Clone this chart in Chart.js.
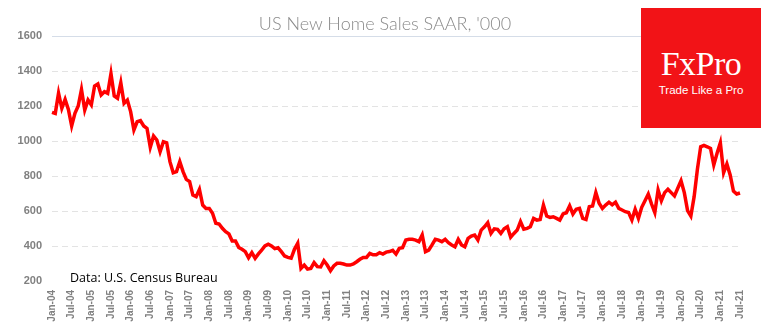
<!DOCTYPE html>
<html>
<head>
<meta charset="utf-8">
<script src="https://cdn.jsdelivr.net/npm/chart.js@4"></script>
<style>
    body { margin: 0; background: #fff; }
    #wrap { position: relative; width: 770px; height: 330px; }
    #title {
        position: absolute; left: 0; top: 12px; width: 770px; text-align: center;
        font-family: Lato, "Open Sans", sans-serif; font-weight: 300; font-size: 18px; color: #8a8a8a;
    }
    #logo {
        position: absolute; left: 641px; top: 8px; width: 120px; height: 120px;
        background: #f21317; color: #fff; text-align: center;
    }
    #logo .fx {
        font-family: "Liberation Serif", "DejaVu Serif", serif; font-size: 34px;
        margin-top: 39px; line-height: 34px; letter-spacing: -0.5px;
    }
    #logo .tag {
        font-family: "Liberation Sans", Arial, sans-serif; font-size: 11.5px; margin-top: 3px;
    }
    #source {
        position: absolute; left: 70px; top: 269px;
        font-family: "Open Sans", "Liberation Sans", sans-serif; font-size: 12.5px; color: #000;
    }
</style>
</head>
<body>
<div id="wrap">
    <canvas id="salesChart" width="770" height="330"></canvas>
    <div id="title">US New Home Sales SAAR, '000</div>
    <div id="source">Data: U.S. Census Bureau</div>
    <div id="logo"><div class="fx">FxPro</div><div class="tag">Trade Like a Pro</div></div>
</div>
<script>
// Monthly new home sales, SAAR thousands
const years = ['04', '05', '06', '07', '08', '09', '10', '11', '12', '13', '14', '15', '16', '17', '18', '19', '20', '21'];
const months = ['Jan', 'Feb', 'Mar', 'Apr', 'May', 'Jun', 'Jul', 'Aug', 'Sep', 'Oct', 'Nov', 'Dec'];

const sales2004 = [1164, 1158, 1273, 1187, 1238, 1180, 1086, 1158, 1200, 1295, 1177, 1234];
const sales2005 = [1206, 1314, 1326, 1263, 1282, 1272, 1385, 1257, 1244, 1333, 1215, 1234];
const sales2006 = [1168, 1063, 1110, 1116, 1086, 1072, 964, 1029, 1006, 939, 996, 990];
const sales2007 = [882, 819, 825, 882, 825, 781, 768, 691, 682, 724, 634, 615];
const sales2008 = [615, 587, 530, 526, 501, 482, 469, 429, 429, 392, 381, 368];
const sales2009 = [333, 362, 330, 355, 377, 400, 410, 400, 385, 390, 368, 343];
const sales2010 = [335, 330, 381, 415, 272, 291, 268, 272, 305, 282, 280, 316];
const sales2011 = [291, 259, 286, 301, 301, 297, 291, 291, 297, 310, 324, 335];
const sales2012 = [335, 358, 350, 350, 362, 354, 365, 368, 375, 354, 387, 390];
const sales2013 = [434, 438, 438, 434, 425, 463, 368, 377, 406, 438, 434, 425];
const sales2014 = [438, 419, 406, 396, 438, 406, 396, 444, 457, 463, 434, 491];
const sales2015 = [510, 533, 472, 498, 495, 472, 498, 510, 450, 472, 491, 539];
const sales2016 = [496, 501, 510, 558, 548, 552, 634, 571, 563, 567, 558, 548];
const sales2017 = [583, 590, 629, 583, 610, 615, 558, 552, 625, 629, 705, 644];
const sales2018 = [615, 634, 650, 635, 650, 615, 606, 596, 591, 549, 610, 558];
const sales2019 = [621, 659, 697, 640, 591, 720, 659, 705, 724, 705, 686, 730];
const sales2020 = [773, 705, 602, 571, 682, 838, 967, 975, 967, 958, 863, 930];
const sales2021 = [990, 819, 869, 806, 714, 697, 703];

const yTicks = [200, 400, 600, 800, 1000, 1200, 1400, 1600];

const sales = [].concat(sales2004, sales2005, sales2006, sales2007, sales2008, sales2009,
    sales2010, sales2011, sales2012, sales2013, sales2014, sales2015, sales2016, sales2017,
    sales2018, sales2019, sales2020, sales2021);

const labels = [];
years.forEach(y => months.forEach(m => labels.push(m + '-' + y)));
labels.length = sales.length;

const ctx = document.getElementById('salesChart').getContext('2d');

new Chart(ctx, {
    type: 'line',
    data: {
        labels: labels,
        datasets: [{
            data: sales,
            borderColor: '#ff0000',
            borderWidth: 3.5,
            pointRadius: 0,
            tension: 0,
            fill: false
        }]
    },
    options: {
        responsive: false,
        animation: false,
        layout: { padding: { top: 36, right: 30, left: 0, bottom: 0 } },
        plugins: {
            legend: { display: false },
            tooltip: { enabled: false }
        },
        scales: {
            x: {
                afterFit: scale => { scale.height = 49; },
                grid: { display: false, drawTicks: false },
                border: { display: false },
                ticks: {
                    autoSkip: false,
                    maxRotation: 90,
                    minRotation: 90,
                    padding: 9,
                    color: '#808080',
                    font: { family: 'Liberation Sans', size: 10, weight: 'bold' },
                    callback: (val, i) => (i % 6 === 0 ? labels[i] : null)
                }
            },
            y: {
                min: 200,
                max: 1600,
                afterFit: scale => { scale.width = 52; },
                afterBuildTicks: scale => { scale.ticks = yTicks.map(v => ({ value: v })); },
                grid: {
                    drawTicks: false,
                    lineWidth: 1,
                    color: c => {
                        if (c.tick.value === 1600) return '#d5dde8';
                        if (c.tick.value === 200) return 'rgba(0,0,0,0)';
                        return '#e3e3e3';
                    }
                },
                border: {
                    display: false,
                    dash: c => (c.tick && c.tick.value === 1600 ? [] : [6, 4])
                },
                ticks: {
                    padding: 10,
                    color: '#808080',
                    font: { family: 'Liberation Sans', size: 11, weight: 'bold' },
                    callback: value => String(value)
                }
            }
        }
    }
});
</script>
</body>
</html>
